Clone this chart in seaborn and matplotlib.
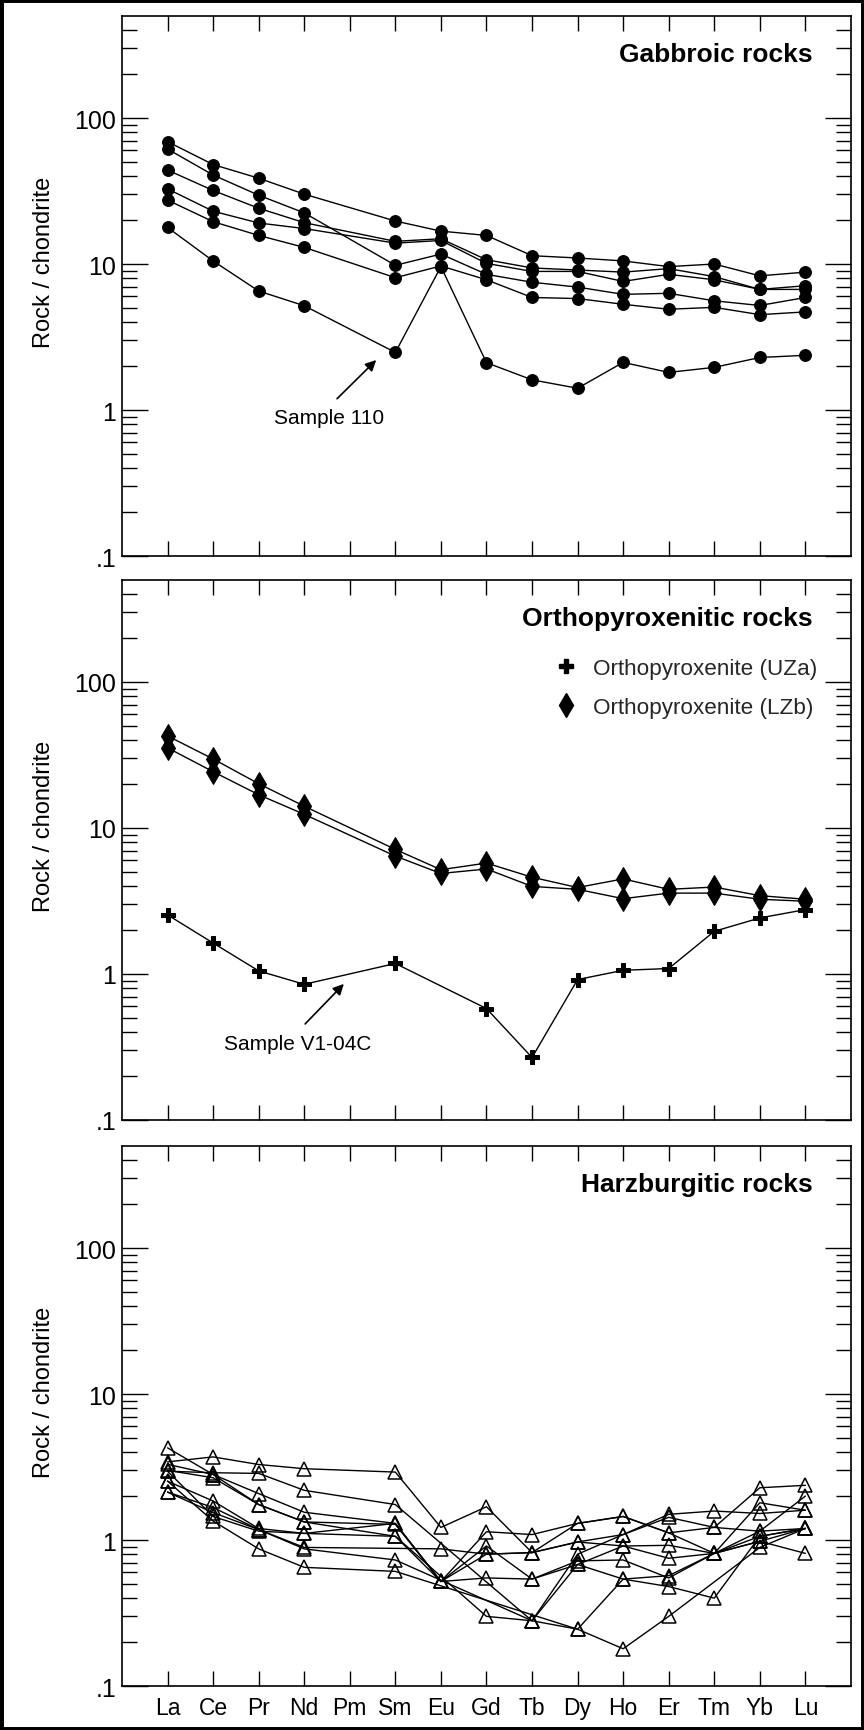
import numpy as np
import pandas as pd
import matplotlib
matplotlib.use("Agg")
import matplotlib.pyplot as plt
import seaborn as sns
from matplotlib.ticker import FixedLocator, FixedFormatter, NullFormatter
from matplotlib.lines import Line2D
from matplotlib.patches import Rectangle

sns.set_theme(style="ticks")
plt.rcParams["font.family"] = ["Liberation Sans", "DejaVu Sans"]

# Rare earth elements in chondrite-normalised order (Pm has no analyses)
elements = ["La", "Ce", "Pr", "Nd", "Pm", "Sm", "Eu", "Gd", "Tb", "Dy", "Ho", "Er", "Tm", "Yb", "Lu"]
analysed = ["La", "Ce", "Pr", "Nd", "Sm", "Eu", "Gd", "Tb", "Dy", "Ho", "Er", "Tm", "Yb", "Lu"]
nan = np.nan

# Gabbroic rocks (rock / chondrite)
gab_1 = [68.9, 48.0, 38.7, 30.1, 19.7, 16.8, 15.7, 11.4, 11.0, 10.5, 9.6, 10.0, 8.3, 8.8]
gab_2 = [61.3, 40.7, 29.6, 22.4, 9.8, 11.7, 8.5, 7.5, 6.95, 6.2, 6.3, 5.6, 5.2, 5.9]
gab_3 = [44.0, 31.9, 24.1, 19.2, 14.3, 14.9, 10.7, 9.4, 9.1, 8.8, 9.3, 8.2, 6.7, 7.1]
gab_4 = [32.7, 23.0, 19.1, 17.5, 13.9, 14.5, 10.1, 8.9, 8.9, 7.6, 8.5, 7.8, 6.7, 6.7]
gab_5 = [27.4, 19.5, 15.7, 13.0, 8.06, 9.7, 7.8, 5.9, 5.8, 5.3, 4.9, 5.05, 4.5, 4.7]
gab_110 = [17.8, 10.5, 6.53, 5.18, 2.48, 9.6, 2.11, 1.61, 1.41, 2.12, 1.81, 1.96, 2.29, 2.37]

# Orthopyroxenitic rocks
opx_uza = [2.54, 1.63, 1.05, 0.85, 1.18, nan, 0.58, 0.268, 0.916, 1.06, 1.09, 1.96, 2.42, 2.76]
opx_lzb_1 = [42.7, 29.7, 20.1, 14.1, 7.13, 5.18, 5.75, 4.6, 3.91, 4.48, 3.8, 3.94, 3.44, 3.25]
opx_lzb_2 = [35.4, 24.3, 16.9, 12.4, 6.42, 4.88, 5.24, 3.98, 3.8, 3.28, 3.58, 3.58, 3.25, 3.15]

# Harzburgitic rocks
hz_a = [3.43, 3.71, 3.29, 3.08, 2.92, 1.22, 1.69, 0.82, 0.97, 1.09, 1.43, 1.22, 2.28, 2.37]
hz_b = [4.28, 2.81, 2.08, 1.55, 1.30, 0.52, 1.14, 1.09, 1.30, 1.45, 1.12, 0.81, 1.80, 1.60]
hz_c = [2.96, 2.89, 2.86, 2.19, 1.75, nan, nan, 0.28, 0.80, 1.09, 1.50, 1.58, 1.52, 1.60]
hz_d = [3.00, 2.67, 1.75, 1.33, 1.28, 0.52, 0.91, 0.54, 0.72, 0.73, 0.55, 0.81, 1.06, 1.20]
hz_e = [2.53, 1.85, 1.20, 1.11, 1.30, 0.52, 0.80, 0.82, 1.30, 1.45, 1.12, 1.22, 1.15, 2.00]
hz_f = [2.13, 1.67, 1.18, 0.89, nan, 0.87, 0.80, 0.82, 0.97, 0.91, 0.92, 0.81, 0.98, 0.81]
hz_g = [2.13, 1.54, 1.18, 0.87, 0.73, nan, nan, 0.28, 0.245, 0.54, 0.48, 0.40, 1.06, 1.20]
hz_h = [2.53, 1.35, 0.87, 0.65, 0.61, nan, nan, nan, 0.245, 0.18, 0.30, nan, 0.89, 1.20]
hz_i = [3.30, 2.81, 1.75, 1.33, 1.06, nan, 0.30, 0.28, 0.68, 0.91, 0.75, 0.81, 1.15, 1.20]
hz_j = [2.96, 1.45, 1.15, 1.11, 1.06, 0.52, 0.55, 0.54, 0.68, 0.54, 0.57, 0.81, 0.98, 1.20]

gabbro = {"G1": gab_1, "G2": gab_2, "G3": gab_3, "G4": gab_4, "G5": gab_5, "110": gab_110}
opx_uza_set = {"V1-04C": opx_uza}
opx_lzb_set = {"L1": opx_lzb_1, "L2": opx_lzb_2}
harz = {"A": hz_a, "B": hz_b, "C": hz_c, "D": hz_d, "E": hz_e,
        "F": hz_f, "G": hz_g, "H": hz_h, "I": hz_i, "J": hz_j}


def long_frame(samples):
    rows = []
    for name, vals in samples.items():
        for el, v in zip(analysed, vals):
            if not np.isnan(v):
                rows.append({"sample": name, "element": el,
                             "pos": elements.index(el) + 1, "value": v})
    return pd.DataFrame(rows)


fig = plt.figure(figsize=(8.64, 17.31), dpi=100)
left, width, height = 0.1412, 0.8437, 0.312
bottoms = [0.6782, 0.3524, 0.0254]
axes = [fig.add_axes([left, b, width, height]) for b in bottoms]

line_kw = dict(estimator=None, units="sample", sort=False, color="black",
               linewidth=1.0, legend=False)

# Gabbroic rocks
sns.lineplot(data=long_frame(gabbro), x="pos", y="value", ax=axes[0],
             marker="o", markersize=8.5, markeredgecolor="black",
             markerfacecolor="black", **line_kw)

# Orthopyroxenitic rocks
sns.lineplot(data=long_frame(opx_uza_set), x="pos", y="value", ax=axes[1],
             marker="P", markersize=10, markeredgecolor="black",
             markerfacecolor="black", **line_kw)
sns.lineplot(data=long_frame(opx_lzb_set), x="pos", y="value", ax=axes[1],
             marker="d", markersize=12, markeredgecolor="black",
             markerfacecolor="black", **line_kw)

# Harzburgitic rocks
sns.lineplot(data=long_frame(harz), x="pos", y="value", ax=axes[2],
             marker="^", markersize=10.5, markeredgecolor="black",
             markerfacecolor="none", markeredgewidth=1.1, **line_kw)

titles = ["Gabbroic rocks", "Orthopyroxenitic rocks", "Harzburgitic rocks"]
major = [0.1, 1, 10, 100]
minor = [m * d for d in [0.1, 1, 10, 100] for m in range(2, 10) if m * d <= 400]

for i, ax in enumerate(axes):
    ax.set_yscale("log")
    ax.set_ylim(0.1, 500)
    ax.set_xlim(0, 16)
    ax.yaxis.set_major_locator(FixedLocator(major))
    ax.yaxis.set_major_formatter(FixedFormatter([".1", "1", "10", "100"]))
    ax.yaxis.set_minor_locator(FixedLocator(minor))
    ax.yaxis.set_minor_formatter(NullFormatter())
    ax.set_xticks(range(1, 16))
    if i == 2:
        ax.set_xticklabels(elements)
    else:
        ax.set_xticklabels([])
    ax.tick_params(axis="x", which="major", direction="in", top=True, bottom=True,
                   length=10.8, width=1.0, color="black", labelsize=16.5, pad=7)
    ax.tick_params(axis="y", which="major", direction="in", left=True, right=True,
                   length=19, width=1.0, color="black", labelsize=18, pad=4)
    ax.tick_params(axis="y", which="minor", direction="in", left=True, right=True,
                   length=10.8, width=1.0, color="black")
    for s in ax.spines.values():
        s.set_linewidth(1.2)
        s.set_color("black")
    ax.set_xlabel("")
    ax.set_ylabel("Rock / chondrite", fontsize=17, color="black")
    ax.yaxis.set_label_coords(-0.092, 0.545)
    ax.text(0.948, 0.93, titles[i], transform=ax.transAxes, ha="right", va="center",
            fontsize=19, fontweight="bold", color="black")
    for lab in ax.get_xticklabels() + ax.get_yticklabels():
        lab.set_color("black")

# Sample call-outs
arrow = dict(arrowstyle="-|>", color="black", lw=1.2, mutation_scale=16,
             shrinkA=0, shrinkB=0)
axes[0].annotate("", xy=(5.58, 2.2), xytext=(4.72, 1.195), arrowprops=arrow)
axes[0].text(4.55, 0.89, "Sample 110", ha="center", va="center",
             fontsize=15, color="black")
axes[1].annotate("", xy=(4.87, 0.855), xytext=(4.02, 0.455), arrowprops=arrow)
axes[1].text(3.86, 0.334, "Sample V1-04C", ha="center", va="center",
             fontsize=15, color="black")

# Legend for the orthopyroxenite groups
handles = [Line2D([], [], linestyle="none", marker="P", markersize=10, color="black"),
           Line2D([], [], linestyle="none", marker="d", markersize=12, color="black")]
axes[1].legend(handles, ["Orthopyroxenite (UZa)", "Orthopyroxenite (LZb)"],
               loc="upper left", bbox_to_anchor=(0.593, 0.856), frameon=False,
               fontsize=16.2, handlelength=1.0, handletextpad=0.7,
               labelspacing=0.8, borderpad=0, borderaxespad=0)

# Frame around the whole figure
fig.patches.append(Rectangle((0, 0), 1, 1, transform=fig.transFigure, fill=False,
                             edgecolor="black", linewidth=5, zorder=10))

fig.savefig("out.png", dpi=100, facecolor="white")
